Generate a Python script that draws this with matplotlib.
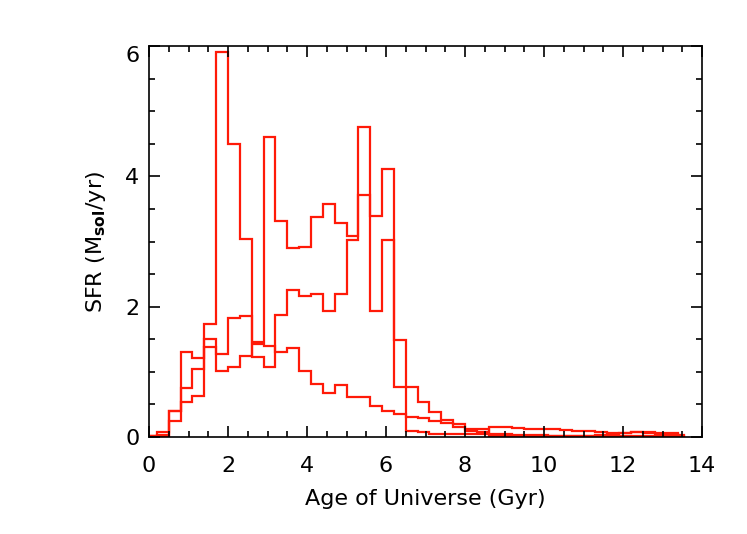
import numpy as np
import matplotlib.pyplot as plt

plt.rcParams['font.family'] = ['DejaVu Sans']

# bins in cosmic time (Gyr): a short first bin, 0.3 Gyr bins, a short last bin
bords = np.concatenate(([0.05], np.arange(0.2, 13.41, 0.3), [13.55]))

# star formation rate per bin (Msol/yr), three histories
sfr_a = [0.02, 0.07, 0.40, 1.31, 1.22, 1.73, 5.91, 4.49, 3.04, 1.46,
         4.60, 3.31, 2.90, 2.91, 3.38, 3.58, 3.28, 3.09, 4.75, 3.39,
         4.12, 1.49, 0.10, 0.07, 0.05, 0.05, 0.04, 0.04, 0.04, 0.02,
         0.01, 0.01, 0.01, 0.01, 0.01, 0.01, 0.01, 0.01, 0.01, 0.01,
         0.01, 0.01, 0.01, 0.01, 0.01, 0.00]
sfr_b = [0.01, 0.02, 0.25, 0.53, 0.63, 1.38, 1.02, 1.08, 1.24, 1.42,
         1.39, 1.31, 1.36, 1.01, 0.82, 0.68, 0.80, 0.62, 0.61, 0.48,
         0.40, 0.35, 0.31, 0.29, 0.24, 0.21, 0.15, 0.10, 0.07, 0.15,
         0.15, 0.14, 0.13, 0.12, 0.12, 0.11, 0.10, 0.09, 0.08, 0.06,
         0.06, 0.07, 0.06, 0.05, 0.05, 0.03]
sfr_c = [0.01, 0.03, 0.40, 0.75, 1.05, 1.51, 1.28, 1.82, 1.85, 1.23,
         1.07, 1.87, 2.26, 2.17, 2.20, 1.94, 2.20, 3.03, 3.72, 1.93,
         3.03, 0.77, 0.76, 0.54, 0.39, 0.26, 0.20, 0.13, 0.12, 0.04,
         0.04, 0.03, 0.03, 0.03, 0.02, 0.02, 0.02, 0.02, 0.03, 0.04,
         0.06, 0.07, 0.07, 0.06, 0.06, 0.02]

rouge = '#ff1a08'

fig = plt.figure(figsize=(7.47, 5.34), dpi=100)
ax = fig.add_axes([0.1995, 0.1816, 0.7403, 0.7323])

for sfr in (sfr_a, sfr_b, sfr_c):
    ax.stairs(sfr, bords, color=rouge, linewidth=1.6)

ax.set_xlim(0, 14)
ax.set_ylim(0, 6)
ax.set_xticks(np.arange(0, 15, 2))
ax.set_xticks(np.arange(0, 14.01, 0.5), minor=True)
ax.set_yticks([0, 2, 4, 6])
ax.set_yticks(np.arange(0, 6.01, 0.5), minor=True)
ax.tick_params(which='both', direction='in', top=True, right=True,
               width=1.2, labelsize=16)
ax.tick_params(which='major', length=8)
ax.tick_params(which='minor', length=4)
ax.tick_params(axis='x', pad=14)
ax.tick_params(axis='y', pad=7)
for s in ax.spines.values():
    s.set_linewidth(1.2)

ax.yaxis.get_major_ticks()[-1].label1.set_va('top')

ax.set_xlabel('Age of Universe (Gyr)', fontsize=16, labelpad=9)
ax.set_ylabel(r'SFR (M$_{\mathbf{sol}}$/yr)', fontsize=16, labelpad=12)

fig.savefig('out.png', dpi=100)
